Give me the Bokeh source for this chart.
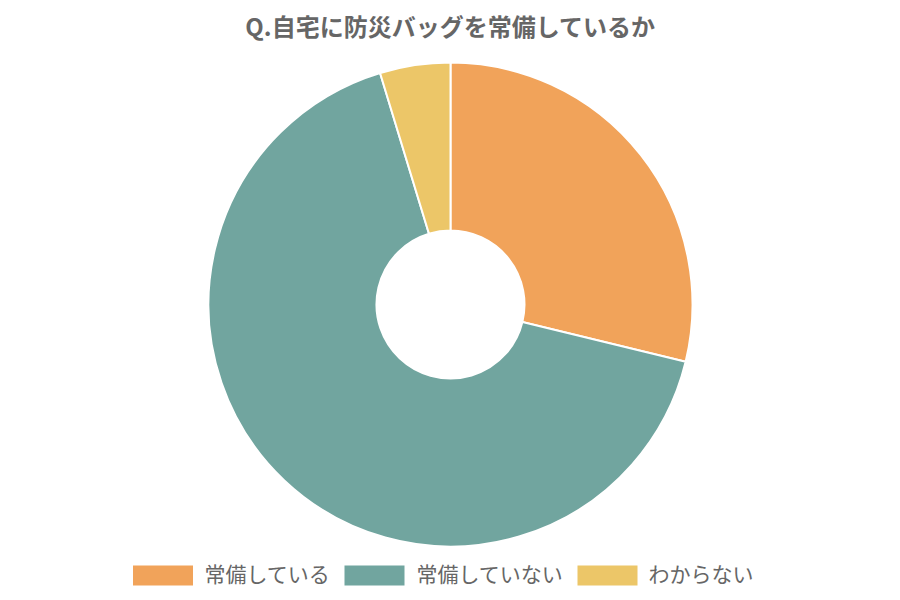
import math
from bokeh.plotting import figure
from bokeh.models import Range1d, ColumnDataSource
from bokeh.core.properties import value
from bokeh.embed import file_html
from bokeh.resources import INLINE

title_text = "Q.自宅に防災バッグを常備しているか"
categories = ["常備している", "常備していない", "わからない"]
values = [28.8, 66.5, 4.7]
colors = ["#F1A35A", "#71A59F", "#ECC668"]

W, H = 900, 600
p = figure(width=W, height=H, output_backend="svg", toolbar_location=None,
           x_range=Range1d(0, W), y_range=Range1d(0, H), min_border=0)
p.axis.visible = False
p.grid.visible = False
p.outline_line_color = None
p.background_fill_color = "white"
p.border_fill_color = "white"

total = sum(values)
starts, ends = [], []
cum = 0.0
for v in values:
    starts.append(math.pi / 2 - 2 * math.pi * cum / total)
    cum += v
    ends.append(math.pi / 2 - 2 * math.pi * cum / total)

src = ColumnDataSource(dict(cat=categories, val=values, color=colors,
                            start=starts, end=ends))
cx, cy = 450, 296
p.annular_wedge(x=cx, y=cy, inner_radius=74, outer_radius=242,
                inner_radius_units="screen", outer_radius_units="screen",
                start_angle="start", end_angle="end", direction="clock",
                fill_color="color", line_color="white", line_width=2, source=src)

# title
p.text(x=[450], y=[575], text=[title_text], text_align="center",
       text_baseline="middle", text_font=value("Noto Sans CJK JP"),
       text_font_size="24px", text_font_style="bold", text_color="#666666")

# legend
box_x = [162.5, 374, 607]
text_x = [204, 416, 648]
leg_y = 25
p.rect(x=box_x, y=[leg_y] * 3, width=60, height=20, fill_color=colors,
       line_color=None)
p.text(x=text_x, y=[leg_y + 3] * 3, text=categories, text_align="left",
       text_baseline="middle", text_font=value("Noto Sans CJK JP"),
       text_font_size="21px", text_color="#666666")

open("out.html", "w").write(file_html(p, INLINE))
